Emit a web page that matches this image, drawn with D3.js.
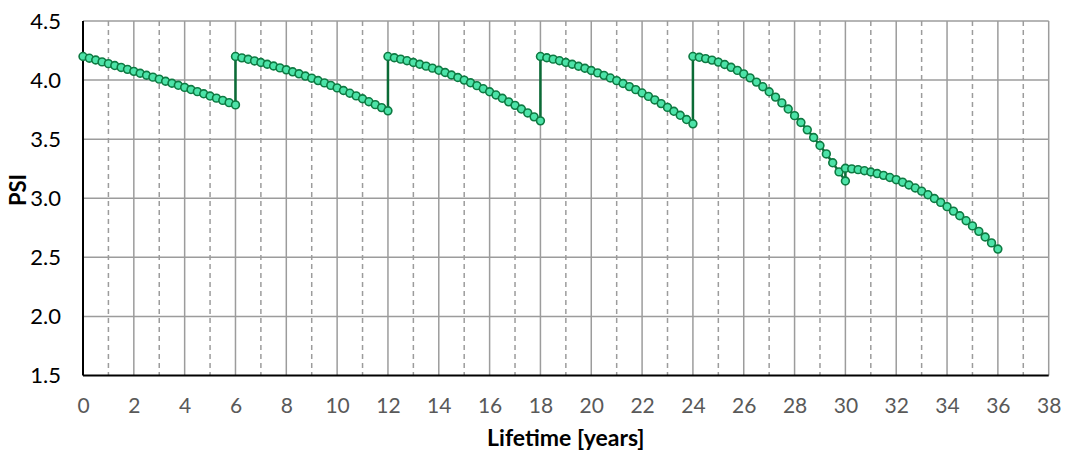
<!DOCTYPE html>
<html>
<head>
<meta charset="utf-8">
<script src="https://cdn.jsdelivr.net/npm/d3@7"></script>
<style>
  body { margin: 0; background: #fff; }
  text { font-family: Lato, "Open Sans", sans-serif; }
</style>
</head>
<body>
<div id="chart"></div>
<script>
// PSI, quarterly readings, one array per 6-year maintenance cycle
var segmentStart = [0, 6, 12, 18, 24, 30];
var stepYears = 0.25;
var psiCycle1 = [4.200, 4.185, 4.170, 4.154, 4.139, 4.123, 4.107, 4.091, 4.074, 4.058, 4.041, 4.025, 4.008,
                 3.990, 3.973, 3.956, 3.938, 3.920, 3.902, 3.884, 3.865, 3.847, 3.828, 3.809, 3.790];
var psiCycle2 = [4.200, 4.188, 4.176, 4.162, 4.149, 4.134, 4.119, 4.103, 4.087, 4.070, 4.053, 4.034, 4.016,
                 3.996, 3.976, 3.955, 3.934, 3.912, 3.889, 3.866, 3.842, 3.817, 3.792, 3.767, 3.740];
var psiCycle3 = [4.200, 4.189, 4.177, 4.164, 4.149, 4.134, 4.118, 4.101, 4.083, 4.064, 4.043, 4.022, 4.000,
                 3.977, 3.953, 3.927, 3.901, 3.874, 3.846, 3.816, 3.786, 3.755, 3.722, 3.689, 3.655];
var psiCycle4 = [4.200, 4.189, 4.177, 4.164, 4.149, 4.134, 4.117, 4.100, 4.081, 4.061, 4.040, 4.018, 3.995,
                 3.971, 3.945, 3.919, 3.891, 3.862, 3.832, 3.801, 3.769, 3.736, 3.702, 3.666, 3.630];
var psiCycle5 = [4.200, 4.193, 4.182, 4.169, 4.152, 4.132, 4.108, 4.082, 4.052, 4.019, 3.983, 3.944, 3.901,
                 3.856, 3.807, 3.755, 3.699, 3.641, 3.579, 3.514, 3.446, 3.375, 3.300, 3.223, 3.146];
var psiCycle6 = [3.254, 3.249, 3.242, 3.233, 3.222, 3.209, 3.194, 3.176, 3.157, 3.136, 3.112, 3.087, 3.060,
                 3.030, 2.998, 2.965, 2.929, 2.891, 2.852, 2.810, 2.766, 2.720, 2.672, 2.622, 2.570];
var psiCycles = [psiCycle1, psiCycle2, psiCycle3, psiCycle4, psiCycle5, psiCycle6];

var xTicks = [0, 2, 4, 6, 8, 10, 12, 14, 16, 18, 20, 22, 24, 26, 28, 30, 32, 34, 36, 38];
var xMinor = [1, 3, 5, 7, 9, 11, 13, 15, 17, 19, 21, 23, 25, 27, 29, 31, 33, 35, 37];
var yTicks = [1.5, 2.0, 2.5, 3.0, 3.5, 4.0, 4.5];

var W = 1065, H = 453,
    margin = {top: 21, right: 16.3, bottom: 77.5, left: 83},
    width = W - margin.left - margin.right,
    height = H - margin.top - margin.bottom;

var svg = d3.select("#chart").append("svg")
    .attr("width", W)
    .attr("height", H);

var x = d3.scaleLinear().domain([0, 38]).range([0, width]),
    y = d3.scaleLinear().domain([1.5, 4.5]).range([height, 0]);

var g = svg.append("g")
    .attr("transform", "translate(" + margin.left + "," + margin.top + ")");

// flatten the cycles into one path (vertical jump at each reset)
var points = [];
psiCycles.forEach(function(c, k) {
  c.forEach(function(v, i) {
    points.push({year: segmentStart[k] + i * stepYears, psi: v});
  });
});

// grid
g.append("g").selectAll("line").data(yTicks.slice(1)).enter().append("line")
    .attr("x1", 0).attr("x2", width)
    .attr("y1", function(d) { return y(d); }).attr("y2", function(d) { return y(d); })
    .attr("stroke", "#9c9c9c").attr("stroke-width", 1.5);

g.append("g").selectAll("line").data(xMinor).enter().append("line")
    .attr("x1", function(d) { return x(d); }).attr("x2", function(d) { return x(d); })
    .attr("y1", 0).attr("y2", height)
    .attr("stroke", "#9c9c9c").attr("stroke-width", 1.5)
    .attr("stroke-dasharray", "5,4");

g.append("g").selectAll("line").data(xTicks.slice(1)).enter().append("line")
    .attr("x1", function(d) { return x(d); }).attr("x2", function(d) { return x(d); })
    .attr("y1", 0).attr("y2", height)
    .attr("stroke", "#9c9c9c").attr("stroke-width", 1.5);

// axes
var xAxis = d3.axisBottom(x).tickValues(xTicks).tickSize(0).tickPadding(23);
var yAxis = d3.axisLeft(y).tickValues(yTicks).tickSize(0).tickPadding(22)
    .tickFormat(d3.format(".1f"));

var gx = g.append("g")
    .attr("transform", "translate(0," + height + ")")
    .call(xAxis);
gx.select(".domain").remove();
gx.selectAll("text").attr("font-size", 21).attr("fill", "#595959")
    .style("font-family", "Lato, 'Open Sans', sans-serif");

var gy = g.append("g").call(yAxis);
gy.select(".domain").remove();
gy.selectAll("text").attr("font-size", 22).attr("fill", "#000")
    .style("font-family", "Lato, 'Open Sans', sans-serif");

g.append("line").attr("x1", 0).attr("x2", 0).attr("y1", 0).attr("y2", height)
    .attr("stroke", "#000").attr("stroke-width", 2);
g.append("line").attr("x1", 0).attr("x2", width).attr("y1", height).attr("y2", height)
    .attr("stroke", "#000").attr("stroke-width", 2);

// series
var line = d3.line()
    .x(function(d) { return x(d.year); })
    .y(function(d) { return y(d.psi); });

g.append("path")
    .datum(points)
    .attr("fill", "none")
    .attr("stroke", "#0b6b36")
    .attr("stroke-width", 2.5)
    .attr("d", line);

g.append("g").selectAll("circle").data(points).enter().append("circle")
    .attr("cx", function(d) { return x(d.year); })
    .attr("cy", function(d) { return y(d.psi); })
    .attr("r", 3.9)
    .attr("fill", "#4ce3a8")
    .attr("stroke", "#0e7a42")
    .attr("stroke-width", 1.6);

// titles
svg.append("text")
    .attr("x", margin.left + width / 2)
    .attr("y", 446)
    .attr("text-anchor", "middle")
    .attr("font-size", 23).attr("font-weight", "bold")
    .text("Lifetime [years]");

svg.append("text")
    .attr("transform", "translate(26,190) rotate(-90)")
    .attr("text-anchor", "middle")
    .attr("font-size", 22).attr("font-weight", "bold")
    .text("PSI");
</script>
</body>
</html>
